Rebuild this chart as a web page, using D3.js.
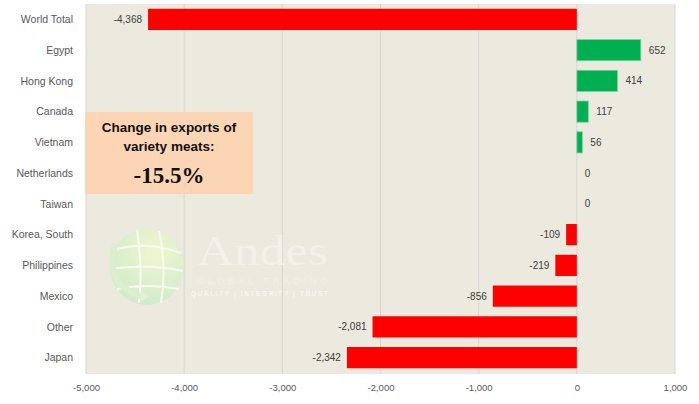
<!DOCTYPE html>
<html>
<head>
<meta charset="utf-8">
<script src="https://cdn.jsdelivr.net/npm/d3@7"></script>
<style>
  html, body { margin: 0; padding: 0; background: #ffffff; }
  svg { display: block; }
</style>
</head>
<body>
<svg id="chart" width="699" height="404"></svg>
<script>
// Change in variety-meat exports by destination (tonnes)
const categories = ["World Total", "Egypt", "Hong Kong", "Canada", "Vietnam", "Netherlands",
  "Taiwan", "Korea, South", "Philippines", "Mexico", "Other", "Japan"];
const changes = [-4368, 652, 414, 117, 56, 0, 0, -109, -219, -856, -2081, -2342];
const xTicks = [-5000, -4000, -3000, -2000, -1000, 0, 1000];
const boxLines = ["Change in exports of", "variety meats:"];
const boxValue = "-15.5%";

const svg = d3.select("#chart");
const W = 699, H = 404;
const margin = { left: 86, right: 24, top: 4, bottom: 31 };
const plotW = W - margin.left - margin.right;
const plotH = H - margin.top - margin.bottom;

const x = d3.scaleLinear().domain([xTicks[0], xTicks[xTicks.length - 1]]).range([margin.left, margin.left + plotW]);
const y = d3.scaleBand().domain(categories).range([margin.top, margin.top + plotH]).paddingInner(0.31).paddingOuter(0.155);

// thousands separator with a plain hyphen for negatives
const fmt = v => d3.format(",")(v).replace("\u2212", "-");
const textColor = "#595959";
const bodyFont = "'Liberation Sans', Arial, sans-serif";

// plot area background
svg.append("rect")
  .attr("x", margin.left).attr("y", margin.top)
  .attr("width", plotW).attr("height", plotH + 1)
  .attr("fill", "#ECE9DF");

// vertical gridlines
svg.append("g")
  .selectAll("line")
  .data(xTicks)
  .join("line")
  .attr("x1", d => x(d)).attr("x2", d => x(d))
  .attr("y1", margin.top).attr("y2", margin.top + plotH + 1)
  .attr("stroke", "#D6D6D3").attr("stroke-width", 1);

// faint watermark logo
const defs = svg.append("defs");
const grad = defs.append("radialGradient").attr("id", "globeGrad")
  .attr("cx", "60%").attr("cy", "30%").attr("r", "75%");
grad.append("stop").attr("offset", "0%").attr("stop-color", "#F1F7CF");
grad.append("stop").attr("offset", "100%").attr("stop-color", "#CDEBCB");
const logo = svg.append("g").attr("transform", "translate(147,267)").attr("opacity", 0.95);
logo.append("ellipse").attr("rx", 37).attr("ry", 38).attr("fill", "url(#globeGrad)");
const gridPaths = [
  "M-30,-18 Q0,-26 34,-14", "M-36,2 Q0,-4 36,4", "M-30,22 Q0,16 32,22",
  "M-10,-37 Q-4,0 -8,36", "M12,-36 Q20,0 14,36"
];
logo.selectAll("path.grid").data(gridPaths).join("path")
  .attr("d", d => d).attr("fill", "none").attr("stroke", "#FAFBF0").attr("stroke-width", 2);
logo.append("path").attr("d", "M-32,-24 Q-44,20 -2,30")
  .attr("fill", "none").attr("stroke", "#DCEFD0").attr("stroke-width", 6);
logo.append("path").attr("d", "M-6,24 L2,30 L-6,34 Z").attr("fill", "#E3F2D6");

const wm = svg.append("g");
wm.append("text").attr("x", 197).attr("y", 265)
  .attr("font-family", "'Liberation Serif', 'Times New Roman', serif")
  .attr("font-size", 42).attr("textLength", 131).attr("lengthAdjust", "spacingAndGlyphs")
  .attr("fill", "#F3F1EA").text("Andes");
wm.append("text").attr("x", 197).attr("y", 284)
  .attr("font-family", bodyFont).attr("font-size", 9.5)
  .attr("textLength", 131).attr("lengthAdjust", "spacing")
  .attr("fill", "#F2F0E9").text("GLOBAL TRADING");
wm.append("text").attr("x", 191).attr("y", 295.5)
  .attr("font-family", bodyFont).attr("font-size", 6.5).attr("font-weight", "bold")
  .attr("textLength", 137).attr("lengthAdjust", "spacing")
  .attr("fill", "#F8F7F2").text("QUALITY | INTEGRITY | TRUST");

// bars
const rows = categories.map((c, i) => ({ cat: c, val: changes[i] }));
svg.append("g")
  .selectAll("rect")
  .data(rows.filter(d => d.val !== 0))
  .join("rect")
  .attr("x", d => x(Math.min(0, d.val)))
  .attr("y", d => y(d.cat))
  .attr("width", d => Math.abs(x(d.val) - x(0)))
  .attr("height", y.bandwidth())
  .attr("fill", d => d.val < 0 ? "#FF0000" : "#00B050")
  .attr("stroke", d => d.val < 0 ? "none" : "#7FD6A3")
  .attr("stroke-width", 0.8);

// value labels
svg.append("g")
  .selectAll("text")
  .data(rows)
  .join("text")
  .attr("x", d => d.val < 0 ? x(d.val) - 6 : x(d.val) + 8)
  .attr("y", d => y(d.cat) + y.bandwidth() / 2)
  .attr("dy", "0.35em")
  .attr("text-anchor", d => d.val < 0 ? "end" : "start")
  .attr("font-family", bodyFont).attr("font-size", 10)
  .attr("fill", "#404040")
  .text(d => fmt(d.val));

// category labels
svg.append("g")
  .selectAll("text")
  .data(categories)
  .join("text")
  .attr("x", 73)
  .attr("y", d => y(d) + y.bandwidth() / 2)
  .attr("dy", "0.35em")
  .attr("text-anchor", "end")
  .attr("font-family", bodyFont).attr("font-size", 10.5)
  .attr("fill", textColor)
  .text(d => d);

// x axis tick labels
const xAxis = d3.axisBottom(x).tickValues(xTicks).tickFormat(fmt).tickSize(0).tickPadding(0);
const ax = svg.append("g").attr("transform", `translate(0,${H - 13})`).call(xAxis);
ax.select(".domain").remove();
ax.selectAll("text")
  .attr("font-family", bodyFont).attr("font-size", 9.5)
  .attr("fill", textColor).attr("dy", "0");

// annotation box
const box = svg.append("g");
box.append("rect").attr("x", 85).attr("y", 112).attr("width", 168).attr("height", 82)
  .attr("fill", "#FCD5B4");
box.selectAll("text.line").data(boxLines).join("text")
  .attr("class", "line")
  .attr("x", 169).attr("y", (d, i) => 132 + i * 18.5)
  .attr("text-anchor", "middle")
  .attr("font-family", "'Liberation Sans', Arial, sans-serif")
  .attr("font-size", 13.5).attr("font-weight", "bold").attr("fill", "#111")
  .text(d => d);
box.append("text")
  .attr("x", 169).attr("y", 183).attr("text-anchor", "middle")
  .attr("font-family", "'Liberation Serif', 'Times New Roman', serif")
  .attr("font-size", 23).attr("font-weight", "bold").attr("fill", "#111")
  .text(boxValue);
</script>
</body>
</html>
